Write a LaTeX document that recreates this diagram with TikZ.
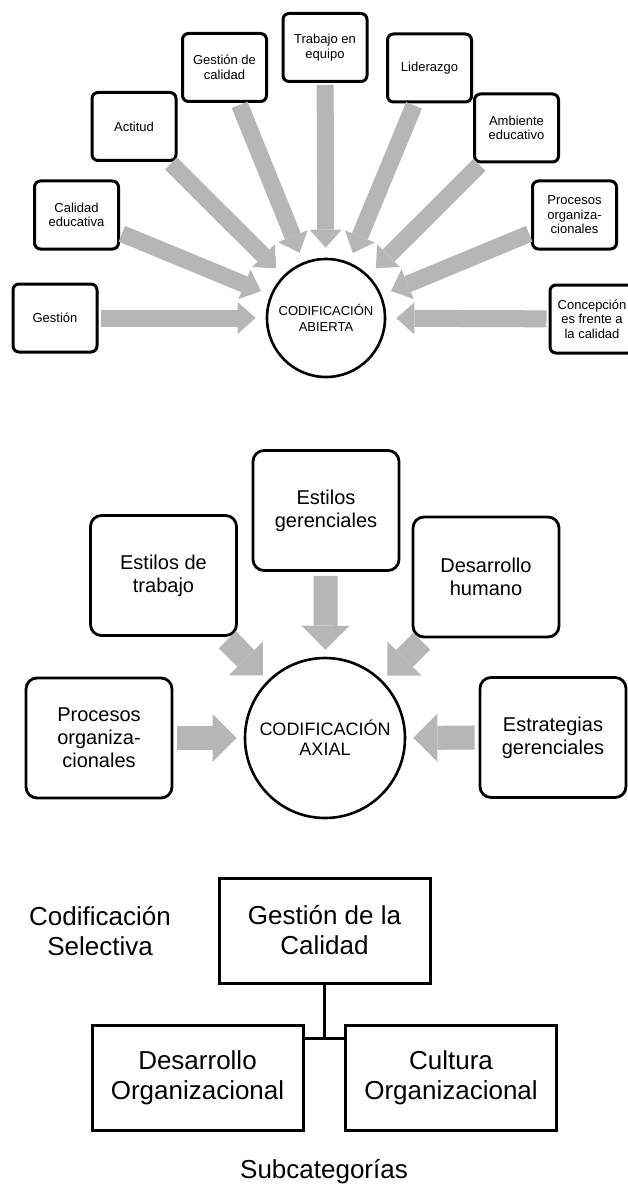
\documentclass[tikz,border=0pt]{standalone}
\usepackage{fontspec}
\setmainfont{Liberation Sans}
\usetikzlibrary{arrows.meta}
\definecolor{arrowgray}{RGB}{182,182,182}

\begin{document}
\begin{tikzpicture}[x=1pt,y=-1pt,
  smallbox/.style={draw,line width=3pt,rounded corners=6pt,minimum width=84pt,
    minimum height=68pt,inner sep=2pt,align=center,font=\fontsize{13}{14.5}\selectfont},
  midbox/.style={draw,line width=2.8pt,rounded corners=11pt,minimum width=146pt,
    minimum height=120pt,align=center,font=\fontsize{20}{23}\selectfont},
  bigbox/.style={draw,line width=3pt,minimum width=211pt,minimum height=105pt,
    align=center,font=\fontsize{26}{30}\selectfont},
  hub/.style={draw,circle,line width=2.6pt,align=center},
  spoke/.style={line width=17pt,arrowgray,
    -{Triangle[width=32pt,length=18pt,line width=0pt]},shorten <=2pt,shorten >=10pt},
  bigspoke/.style={line width=24pt,arrowgray,
    -{Triangle[width=48pt,length=24pt,line width=0pt]},shorten <=4pt,shorten >=7pt},
  tree/.style={line width=3pt}]
\clip (0,0) rectangle (628,1185);

\node[hub,minimum size=118pt,font=\fontsize{13}{16}\selectfont] (abierta) at (326,318) {CODIFICACIÓN\\ABIERTA};
\node[smallbox] (gestion) at (55,318) {Gestión};
\node[smallbox] (calidad) at (76.5,215) {Calidad\\educativa};
\node[smallbox] (actitud) at (134,126.5) {Actitud};
\node[smallbox] (gcalidad) at (224.5,67.5) {Gestión de\\calidad};
\node[smallbox] (trabajo) at (325,47.5) {Trabajo en\\equipo};
\node[smallbox] (liderazgo) at (429.5,68) {Liderazgo};
\node[smallbox] (ambiente) at (516.5,128) {Ambiente\\educativo};
\node[smallbox] (procesosA) at (574.5,215) {Procesos\\organiza-\\cionales};
\node[smallbox] (concep) at (592,319) {Concepción\\es frente a\\la calidad};

\draw[spoke] (gestion) -- (abierta);
\draw[spoke] (calidad) -- (abierta);
\draw[spoke] (actitud) -- (abierta);
\draw[spoke] (gcalidad) -- (abierta);
\draw[spoke] (trabajo) -- (abierta);
\draw[spoke] (liderazgo) -- (abierta);
\draw[spoke] (ambiente) -- (abierta);
\draw[spoke] (procesosA) -- (abierta);
\draw[spoke] (concep) -- (abierta);

\node[hub,minimum size=160pt,font=\fontsize{18}{20}\selectfont] (axial) at (325,738) {CODIFICACIÓN\\AXIAL};
\node[midbox] (estilosT) at (163.5,575.5) {Estilos de\\trabajo};
\node[midbox] (estilosG) at (326,510.5) {Estilos\\gerenciales};
\node[midbox] (desarrollo) at (486,577) {Desarrollo\\humano};
\node[midbox] (procesosB) at (99,738) {Procesos\\organiza-\\cionales};
\node[midbox] (estrategias) at (553,737.5) {Estrategias\\gerenciales};

\draw[bigspoke] (estilosT) -- (axial);
\draw[bigspoke] (estilosG) -- (axial);
\draw[bigspoke] (desarrollo) -- (axial);
\draw[bigspoke] (procesosB) -- (axial);
\draw[bigspoke] (estrategias) -- (axial);

\node[bigbox] (gcalidadB) at (324.5,930.5) {Gestión de la\\Calidad};
\node[bigbox] (desarrolloO) at (197.5,1077.5) {Desarrollo\\Organizacional};
\node[bigbox] (culturaO) at (451,1077.5) {Cultura\\Organizacional};
\node[align=center,font=\fontsize{26}{30}\selectfont] (selectiva) at (100,931) {Codificación\\Selectiva};
\node[anchor=base,font=\fontsize{26}{30}\selectfont] (subcat) at (324,1178) {Subcategorías};

\coordinate (fork) at (324.5,1038);
\draw[tree] (gcalidadB) -- (fork);
\draw[tree] (desarrolloO.east |- fork) -- (culturaO.west |- fork);
\end{tikzpicture}
\end{document}
